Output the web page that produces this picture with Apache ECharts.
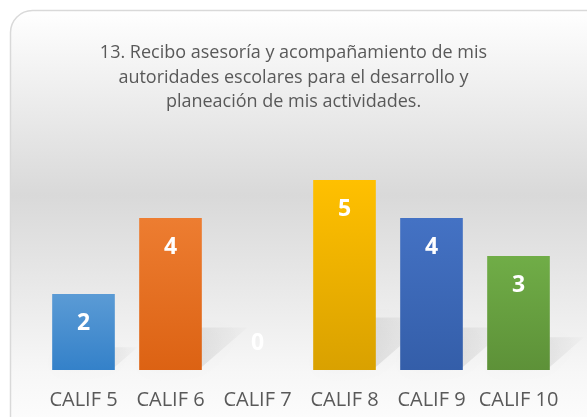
<!DOCTYPE html>
<html>
<head>
<meta charset="utf-8">
<script src="https://cdn.jsdelivr.net/npm/echarts@6/dist/echarts.min.js"></script>
<style>
html,body{margin:0;padding:0;background:#fff;}
#chartID{width:587px;height:417px;}
</style>
</head>
<body>
<div id="chartID"></div>
<script>
//calificaciones
var califTitle = "13. Recibo asesoría y acompañamiento de mis\nautoridades escolares para el desarrollo y\nplaneación de mis actividades.";
var califCategoryArray = ["CALIF 5", "CALIF 6", "CALIF 7", "CALIF 8", "CALIF 9", "CALIF 10"];
var califValueArray = [2, 4, 0, 5, 4, 3];
var califTopColors = ['#5b9bd5', '#ed7d31', '#a5a5a5', '#ffc000', '#4472c4', '#70ad47'];
var califBottomColors = ['#3481c9', '#dc6213', '#8c8c8c', '#d9a100', '#345ea9', '#5d9138'];

var calif_graphID = echarts.init(document.getElementById('chartID'));

function barGradient(i){
	return new echarts.graphic.LinearGradient(0, 0, 0, 1, [
		{offset: 0, color: califTopColors[i]},
		{offset: 1, color: califBottomColors[i]}
	]);
}

var barData = califValueArray.map(function(v, i){
	var item = {value: v, itemStyle: {color: barGradient(i)}};
	if(v === 0){
		item.label = {position: 'insideBottom', distance: 15};
	}
	return item;
});

var option = {
	animation: false,
	textStyle: {fontFamily: 'Open Sans'},
	title: {
		text: califTitle,
		left: 'center',
		top: 36,
		textStyle: {
			fontFamily: 'Open Sans',
			fontSize: 18,
			fontWeight: 'normal',
			lineHeight: 24.5,
			color: '#595959'
		}
	},
	graphic: [{
		type: 'rect',
		z: -10,
		silent: true,
		shape: {x: 10.5, y: 10.5, width: 620, height: 440, r: 22},
		style: {
			fill: new echarts.graphic.LinearGradient(0, 0, 0, 1, [
				{offset: 0, color: '#ffffff'},
				{offset: 0.42, color: '#d9d9d9'},
				{offset: 0.82, color: '#f7f7f7'},
				{offset: 1, color: '#ffffff'}
			], false),
			stroke: '#d9d9d9',
			lineWidth: 1.5
		}
	}],
	grid: {left: 40, right: 25, top: 180, bottom: 47},
	xAxis: {
		type: 'category',
		data: califCategoryArray,
		axisLine: {show: false},
		axisTick: {show: false},
		axisLabel: {
			interval: 0,
			margin: 20,
			fontFamily: 'Open Sans',
			fontSize: 20,
			color: '#595959'
		}
	},
	yAxis: {
		type: 'value',
		min: 0,
		max: 5,
		show: false,
		splitLine: {show: false}
	},
	series: [
		{
			//sombra
			type: 'custom',
			silent: true,
			z: 1,
			data: califValueArray,
			renderItem: function(params, api){
				var idx = api.value(0);
				var v = api.value(1);
				var base = api.coord([idx, 0]);
				var top = api.coord([idx, v]);
				var h = base[1] - top[1];
				if(h <= 0){ return null; }
				var w = api.size([1, 0])[0] * 0.72;
				var x0 = base[0] - w / 2, x1 = base[0] + w / 2, yb = base[1] - 3;
				var dx = h * 0.3, dy = h * 0.26;
				return {
					type: 'polygon',
					shape: {points: [[x0, yb], [x1, yb], [x1 + dx, yb - dy], [x0 + dx, yb - dy]]},
					style: {
						fill: new echarts.graphic.LinearGradient(0, 1, 1, 0, [
							{offset: 0, color: 'rgba(0,0,0,0.15)'},
							{offset: 1, color: 'rgba(0,0,0,0.01)'}
						]),
						shadowBlur: 20,
						shadowColor: 'rgba(0,0,0,0.2)'
					}
				};
			},
			encode: {x: 0, y: 1}
		},
		{
			name: 'calif',
			type: 'bar',
			z: 3,
			barCategoryGap: '28%',
			data: barData,
			label: {
				show: true,
				position: 'insideTop',
				distance: 18,
				color: '#ffffff',
				fontFamily: 'Open Sans',
				fontWeight: 'bold',
				fontSize: 23
			}
		}
	]
};
calif_graphID.setOption(option);
</script>
</body>
</html>
